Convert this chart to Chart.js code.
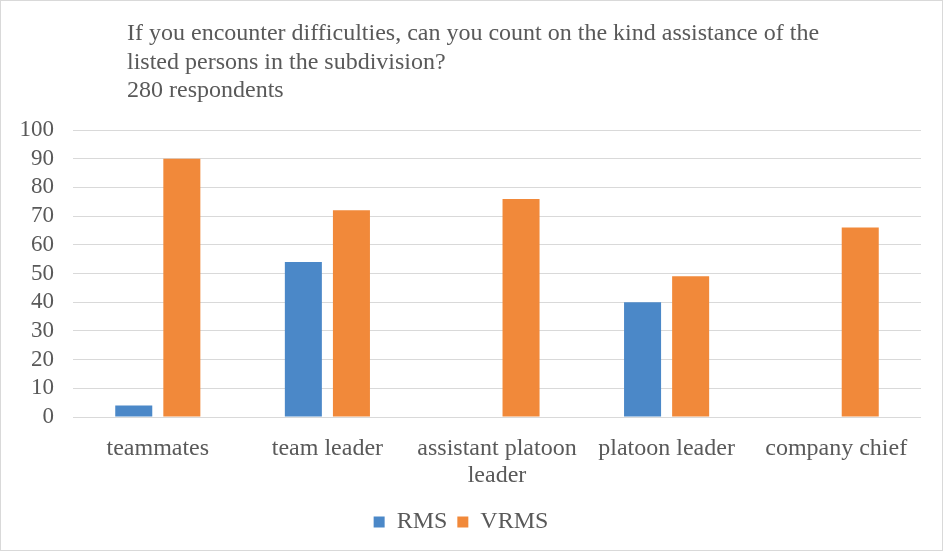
<!DOCTYPE html>
<html>
<head>
<meta charset="utf-8">
<script src="https://cdn.jsdelivr.net/npm/chart.js@4.4.0/dist/chart.umd.min.js"></script>
<style>
  body { margin: 0; background: #fff; }
  #wrap {
    width: 943px; height: 551px;
    box-sizing: border-box;
    border: 1px solid #d9d9d9;
  }
  canvas { display: block; }
</style>
</head>
<body>
<div id="wrap">
  <canvas id="chart" width="941" height="549"></canvas>
</div>
<script>
const categories = [
  "teammates",
  "team leader",
  ["assistant platoon", "leader"],
  "platoon leader",
  "company chief"
];

const rmsValues = [4, 54, 0, 40, 0];
const vrmsValues = [90, 72, 76, 49, 66];

const titleLines = [
  "If you encounter difficulties, can you count on the kind assistance of the",
  "listed persons in the subdivision?",
  "280 respondents"
];

const textColor = "#595959";
const fontFamily = "'Liberation Serif', 'Times New Roman', serif";

// title drawn left aligned at a fixed indent, like the original
const titlePlugin = {
  id: "leftTitle",
  afterDraw(chart) {
    const ctx = chart.ctx;
    ctx.save();
    ctx.fillStyle = textColor;
    ctx.font = "24px " + fontFamily;
    ctx.textBaseline = "middle";
    ctx.textAlign = "left";
    titleLines.forEach((line, i) => {
      ctx.fillText(line, 126, 33 + i * 28.5);
    });
    ctx.restore();
  }
};

const ctx = document.getElementById("chart");

new Chart(ctx, {
  type: "bar",
  data: {
    labels: categories,
    datasets: [
      {
        label: "RMS",
        data: rmsValues,
        backgroundColor: "#4b88c8",
        categoryPercentage: 0.567,
        barPercentage: 0.77
      },
      {
        label: "VRMS",
        data: vrmsValues,
        backgroundColor: "#f1893a",
        categoryPercentage: 0.567,
        barPercentage: 0.77
      }
    ]
  },
  plugins: [titlePlugin],
  options: {
    responsive: false,
    animation: false,
    layout: {
      padding: { top: 129, right: 21, bottom: 6, left: 0 }
    },
    scales: {
      x: {
        grid: { display: false },
        border: { display: false },
        ticks: {
          color: textColor,
          font: { family: fontFamily, size: 24, lineHeight: 1.12 },
          padding: 10,
          maxRotation: 0
        },
        afterFit(scale) {
          scale.height = 83;
        }
      },
      y: {
        min: 0,
        max: 100,
        ticks: {
          stepSize: 10,
          autoSkip: false,
          color: textColor,
          font: { family: fontFamily, size: 23, lineHeight: 1 },
          padding: 19
        },
        grid: {
          color: "#d9d9d9",
          lineWidth: 1,
          drawTicks: false
        },
        border: { display: false },
        afterFit(scale) {
          scale.width = 72;
        }
      }
    },
    plugins: {
      legend: {
        position: "bottom",
        labels: {
          color: textColor,
          font: { family: fontFamily, size: 24 },
          boxWidth: 11,
          boxHeight: 11,
          padding: 10
        }
      },
      tooltip: { enabled: false }
    }
  }
});
</script>
</body>
</html>
